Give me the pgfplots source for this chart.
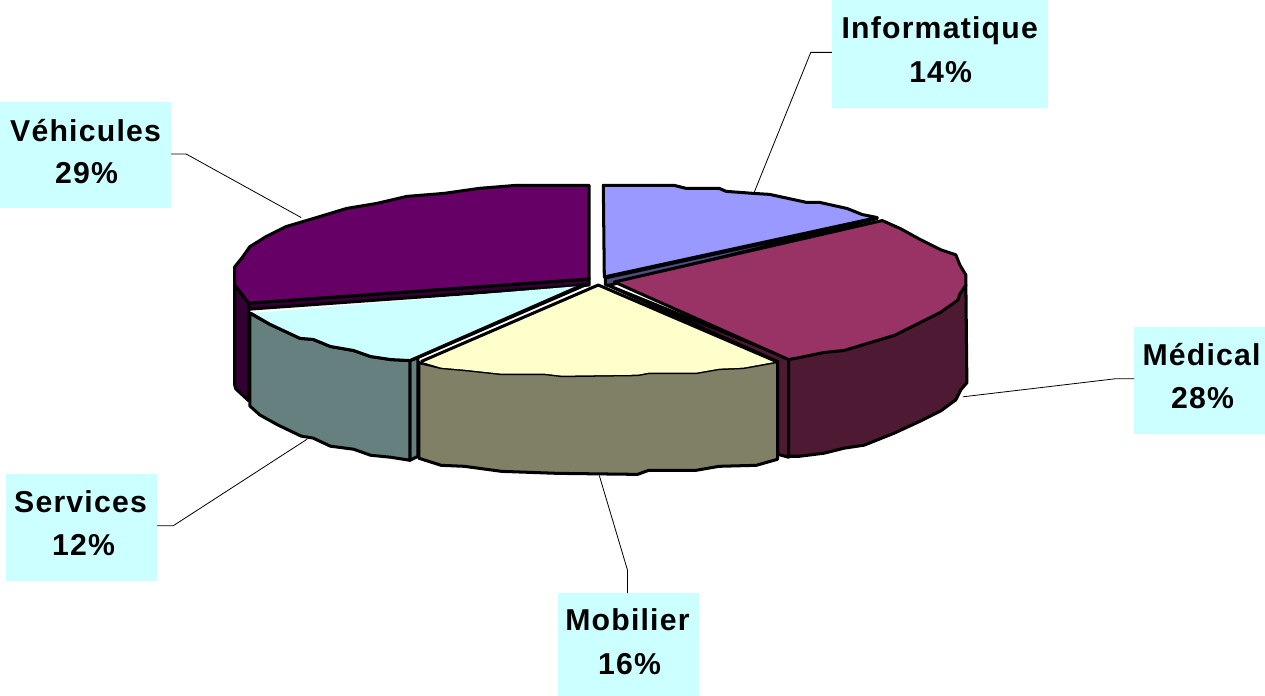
\documentclass[border=0pt]{standalone}
\usepackage{pgfplots}
\usepackage{fontspec}
\pgfplotsset{compat=1.18}
\setmainfont{Liberation Sans}[BoldFont={Liberation Sans Bold}]
\newfontfamily\lab{Liberation Sans Bold}[LetterSpace=4]
\definecolor{vt}{HTML}{660066}\definecolor{vs}{HTML}{330033}
\definecolor{st}{HTML}{CCFFFF}\definecolor{ss}{HTML}{668080}
\definecolor{mt}{HTML}{FFFFCC}\definecolor{ms}{HTML}{808066}
\definecolor{ct}{HTML}{993366}\definecolor{cs}{HTML}{4D1933}
\definecolor{it}{HTML}{9999FF}\definecolor{is}{HTML}{4D4D80}
\tikzset{pie/.style={draw=black,line width=3bp,line join=round},
  lead/.style={draw=black,line width=0.8bp},
  box/.style={fill=st,draw=none},
  lb/.style={anchor=base,inner sep=0pt,font=\fontsize{30bp}{32bp}\selectfont\lab}}
\begin{document}
\begin{tikzpicture}
\begin{axis}[scale only axis,width=1265bp,height=701bp,xmin=0,xmax=1265,ymin=0,ymax=701,y dir=reverse,hide axis,clip=true]
% label boxes
\addplot[box] coordinates {(835,10)(1050,10)(1050,117)(835,117)} --cycle;
\addplot[box] coordinates {(9,111)(179,111)(179,217)(9,217)} --cycle;
\addplot[box] coordinates {(1135,335)(1265,335)(1265,441)(1135,441)} --cycle;
\addplot[box] coordinates {(15,481)(165,481)(165,587)(15,587)} --cycle;
\addplot[box] coordinates {(563,599)(703,599)(703,701)(563,701)} --cycle;
% leaders
\addplot[lead] coordinates {(757,203)(814,62)(835,62)};
\addplot[lead] coordinates {(308,226)(194,163)(179,163)};
\addplot[lead] coordinates {(965,404)(1117,386)(1135,386)};
\addplot[lead] coordinates {(314,446)(181,532)(165,532)};
\addplot[lead] coordinates {(604,482)(632,576)(632,599)};
% Vehicules
\addplot[pie,fill=vs] coordinates {(242,293)(256,311)(256,408)(243,396)(242,392)} --cycle;
\addplot[pie,fill=vs] coordinates {(256,311)(594,287)(594,293)(256,317)} --cycle;
\addplot[pie,fill=vt] coordinates {(594,194)(522,194)(485,197)(450,202)(413,205)(383,212)(353,217)(320,227)(293,235)(273,245)(257,255)(250,265)(242,275)(242,293)(256,311)(594,287)} --cycle;
% Informatique
\addplot[pie,fill=is] coordinates {(610,286)(880,227)(615,293)(610,293)} --cycle;
\addplot[pie,fill=it] coordinates {(608,194)(678,194)(690,197)(723,197)(730,200)(757,202)(773,203)(810,211)(823,211)(850,217)(865,223)(880,226)(609,285)} --cycle;
% Medical
\addplot[pie,fill=cs] coordinates {(612,293)(792,366)(792,464)(781,461)(781,369)} --cycle;
\addplot[pie,fill=cs] coordinates {(792,367)(968,293)(969,390)(963,397)(958,407)(943,418)(923,428)(897,440)(867,452)(847,455)(827,460)(803,463)(792,463)} --cycle;
\addplot[pie,fill=ct] coordinates {(619,290)(885,229)(903,237)(923,248)(943,258)(958,263)(962,273)(968,283)(968,293)(962,302)(960,308)(943,320)(923,330)(897,343)(867,352)(847,358)(827,360)(803,365)(792,367)} --cycle;
% Services
\addplot[pie,fill=ss] coordinates {(416,368)(424,365)(424,463)(416,467)} --cycle;
\addplot[pie,fill=ss] coordinates {(416,368)(424,365)(590,293)(585,293)} --cycle;
\addplot[pie,fill=ss] coordinates {(257,321)(277,332)(307,346)(320,347)(337,354)(360,358)(377,364)(397,367)(416,368)(416,467)(397,464)(377,462)(360,456)(337,453)(320,445)(308,443)(285,432)(267,422)(257,413)} --cycle;
\addplot[draw=none,fill=st] coordinates {(258,321)(277,332)(307,346)(320,347)(337,354)(360,358)(377,364)(397,367)(416,368)(585,294)} --cycle;
\addplot[draw=black,line width=3bp,line join=round] coordinates {(258,321)(277,332)(307,346)(320,347)(337,354)(360,358)(377,364)(397,367)(416,368)(585,294)};
% Mobilier
\addplot[pie,fill=ms] coordinates {(425,370)(447,375)(470,377)(507,381)(550,381)(567,383)(642,382)(653,380)(700,380)(723,376)(747,375)(781,369)(781,466)(760,472)(723,473)(700,477)(653,477)(642,481)(563,480)(507,478)(470,473)(447,472)(425,465)} --cycle;
\addplot[draw=none,fill=mt] coordinates {(603,293)(427,369)(447,375)(470,377)(507,381)(550,381)(567,383)(642,382)(653,380)(700,380)(723,376)(747,375)(780,369)} --cycle;
\addplot[draw=black,line width=3bp,line join=round] coordinates {(780,369)(603,293)(427,369)};
% text
\node[lb] at (axis cs:942,48) {Informatique};
\node[lb] at (axis cs:943,92) {14\%};
\node[lb] at (axis cs:94,150) {Véhicules};
\node[lb] at (axis cs:95,192) {29\%};
\node[lb] at (axis cs:1202,373) {Médical};
\node[lb] at (axis cs:1203,416) {28\%};
\node[lb] at (axis cs:89,519) {Services};
\node[lb] at (axis cs:92,562) {12\%};
\node[lb] at (axis cs:632,636) {Mobilier};
\node[lb] at (axis cs:634,680) {16\%};
\end{axis}
\end{tikzpicture}
\end{document}
